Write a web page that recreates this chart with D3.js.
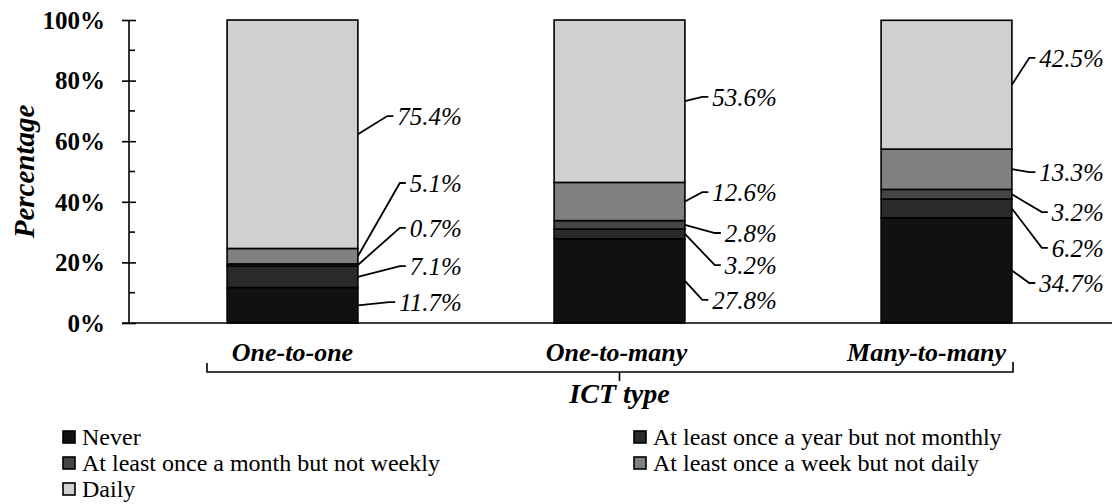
<!DOCTYPE html>
<html><head><meta charset="utf-8">
<script src="https://cdn.jsdelivr.net/npm/d3@7"></script>
<style>body{margin:0;background:#fff}svg{display:block}</style>
</head><body>
<svg id="chart" width="1112" height="504"></svg>
<script>
const categories = ["One-to-one", "One-to-many", "Many-to-many"];
const seriesNames = ["Never", "At least once a year but not monthly", "At least once a month but not weekly", "At least once a week but not daily", "Daily"];
const neverVals   = [11.7, 27.8, 34.7];
const yearlyVals  = [7.1, 3.2, 6.2];
const monthlyVals = [0.7, 2.8, 3.2];
const weeklyVals  = [5.1, 12.6, 13.3];
const dailyVals   = [75.4, 53.6, 42.5];
// label vertical placement (in % units) for each series, per category
const labelNever   = [6.9, 7.6, 13.2];
const labelYearly  = [18.8, 19.1, 24.8];
const labelMonthly = [31.4, 29.7, 36.6];
const labelWeekly  = [46.2, 43.2, 49.8];
const labelDaily   = [68.3, 74.6, 87.5];
const yTicks = [0, 20, 40, 60, 80, 100];
const yMinorTicks = [10, 30, 50, 70, 90];
const xTitle = "ICT type";
const yTitle = "Percentage";

// layout / style constants
const colors = ["#111111", "#2a2a2a", "#454545", "#808080", "#d0d0d0"];
const labelOffsets = [104, 92, 92];
const catLabelShift = [0, -3, -20];

const seriesVals = [neverVals, yearlyVals, monthlyVals, weeklyVals, dailyVals];
const labelVals = [labelNever, labelYearly, labelMonthly, labelWeekly, labelDaily];
const rows = categories.map((c, i) => {
  const r = {cat: c};
  seriesNames.forEach((s, k) => r[s] = seriesVals[k][i]);
  return r;
});

const FONT = '"Liberation Serif"';
const svg = d3.select("#chart");
const x = d3.scaleBand().domain(categories).range([129, 1110]).paddingInner(0.6).paddingOuter(0.3);
const y = d3.scaleLinear().domain([0, 100]).range([323, 20]);

const stack = d3.stack().keys(seriesNames)(rows);

// bars
const g = svg.append("g");
stack.forEach((layer, k) => {
  g.selectAll(null).data(layer).enter().append("rect")
    .attr("x", d => x(d.data.cat))
    .attr("width", x.bandwidth())
    .attr("y", d => y(d[1]))
    .attr("height", d => y(d[0]) - y(d[1]))
    .attr("fill", colors[k])
    .attr("stroke", "#000")
    .attr("stroke-width", 1.6);
});

// axis
const yAxis = d3.axisLeft(y).tickValues(yTicks).tickFormat(d => d + "%").tickSize(7).tickPadding(17);
const ax = svg.append("g").attr("transform", "translate(129,0)").call(yAxis);
ax.select(".domain").remove();
ax.selectAll(".tick line").attr("x2", -7).attr("x1", 7).attr("stroke", "#000").attr("stroke-width", 1.6);
ax.selectAll(".tick text").style("font-family", FONT).style("font-weight", "bold").style("font-size", "25px")
  .attr("fill", "#000").attr("dy", "0.33em");
svg.append("line").attr("x1", 129).attr("x2", 129).attr("y1", y(100)).attr("y2", y(0)).attr("stroke", "#000").attr("stroke-width", 1.6);
svg.selectAll(".minor").data(yMinorTicks).enter().append("line")
  .attr("x1", 129).attr("x2", 135).attr("y1", d => y(d)).attr("y2", d => y(d))
  .attr("stroke", "#000").attr("stroke-width", 1.6);
svg.append("line").attr("x1", 122).attr("x2", 1112).attr("y1", y(0)).attr("y2", y(0)).attr("stroke", "#000").attr("stroke-width", 1.6);

// value labels with leader lines
stack.forEach((layer, k) => {
  layer.forEach((d, i) => {
    const bx = x(d.data.cat) + x.bandwidth();
    const ay = y((d[0] + d[1]) / 2);
    const ly = y(labelVals[k][i]);
    const xe = bx + labelOffsets[i];
    const t = svg.append("text")
      .attr("x", xe).attr("y", ly).attr("dy", "0.35em")
      .attr("text-anchor", "end")
      .style("font-family", FONT).style("font-style", "italic").style("font-size", "25px")
      .attr("fill", "#000")
      .text(seriesVals[k][i].toFixed(1) + "%");
    const w = t.node().getComputedTextLength();
    const xs = xe - w;
    svg.append("path")
      .attr("d", `M${bx},${ay}L${xs - 10},${ly}L${xs - 4},${ly}`)
      .attr("fill", "none").attr("stroke", "#000").attr("stroke-width", 1.8);
  });
});

// category labels
svg.selectAll(".cat").data(categories).enter().append("text")
  .attr("x", (d, i) => x(d) + x.bandwidth() / 2 + catLabelShift[i]).attr("y", 361)
  .attr("text-anchor", "middle")
  .style("font-family", FONT).style("font-weight", "bold").style("font-style", "italic").style("font-size", "26px")
  .attr("fill", "#000").text(d => d);

// bracket
const bl = 207, br = 1013, byy = 372, bc = x(categories[1]) + x.bandwidth() / 2;
svg.append("path")
  .attr("d", `M${bl},${byy - 9}L${bl},${byy}L${br},${byy}L${br},${byy - 10}M${bc},${byy}L${bc},${byy + 9}`)
  .attr("fill", "none").attr("stroke", "#000").attr("stroke-width", 1.6);

svg.append("text").attr("x", bc).attr("y", 403).attr("text-anchor", "middle")
  .style("font-family", FONT).style("font-weight", "bold").style("font-style", "italic").style("font-size", "28px")
  .attr("fill", "#000").text(xTitle);

svg.append("text").attr("transform", `translate(34,${(y(0) + y(100)) / 2}) rotate(-90)`)
  .attr("text-anchor", "middle")
  .style("font-family", FONT).style("font-weight", "bold").style("font-style", "italic").style("font-size", "29px")
  .attr("fill", "#000").text(yTitle);

// legend
const legX = [63, 634];
const legY = [445, 471, 497];
seriesNames.forEach((s, k) => {
  const lx = legX[k % 2], lyb = legY[Math.floor(k / 2)];
  svg.append("rect").attr("x", lx).attr("y", lyb - 14).attr("width", 12).attr("height", 12)
    .attr("fill", colors[k]).attr("stroke", "#000").attr("stroke-width", 1.6);
  svg.append("text").attr("x", lx + 19).attr("y", lyb)
    .style("font-family", FONT).style("font-size", "24px").attr("fill", "#000").text(s);
});
</script>
</body></html>
